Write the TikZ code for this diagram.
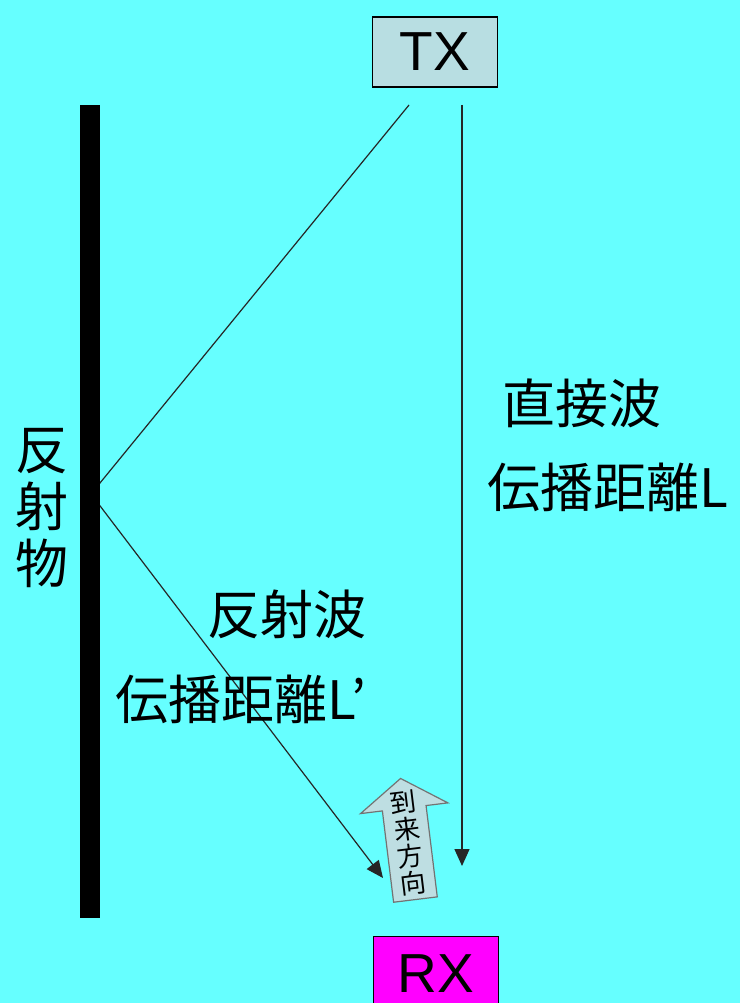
\documentclass[tikz,border=0pt]{standalone}
\usepackage{fontspec}
\newfontfamily\jpfont{Noto Sans CJK JP}
\newfontfamily\txfont{Liberation Sans}
\usetikzlibrary{arrows.meta}
\definecolor{bgcyan}{RGB}{102,255,255}
\definecolor{boxgray}{RGB}{184,222,226}
\definecolor{arrowgray}{RGB}{190,222,226}
\definecolor{rxmag}{RGB}{255,0,255}
\begin{document}
\begin{tikzpicture}[x=1pt,y=-1pt,
  station/.style={draw=black, line width=1.2pt, minimum width=125, minimum height=70, inner sep=0, font=\txfont\fontsize{55}{60}\selectfont},
  lbl/.style={inner sep=0, font=\jpfont\fontsize{53}{60}\selectfont},
  ray/.style={line width=1.2pt, draw=black!85},
  tip/.style={-{Triangle[width=15,length=17]}}
]
\fill[bgcyan] (0,0) rectangle (740,1003);
\useasboundingbox (0,0) rectangle (740,1003);
\clip (0,0) rectangle (740,1003);

\node[station, fill=boxgray] (tx) at (435,52) {TX};
\node[station, fill=rxmag, minimum height=75] (rx) at (436,974) {RX};

\coordinate (txa) at (409,105);
\coordinate (txb) at (462,105);
\coordinate (rxb) at (462,866);
\coordinate (rxa) at (383,878);
\coordinate (refl) at (91,494);

\draw[ray] (txa) -- (refl);
\draw[ray, tip] (refl) -- (rxa);
\draw[ray, line width=1.4pt, tip] (txb) -- (rxb);

\node[fill=black, minimum width=20, minimum height=813, inner sep=0] (bar) at (90,511.5) {};

\node[lbl, align=center] (obj) at (42,508) {反\\[-3pt]射\\[-3pt]物};
\node[lbl] (direct) at (582,403) {直接波};
\node[lbl, anchor=west] (dl) at (487,487) {伝播距離L};
\node[lbl] (refw) at (287,614) {反射波};
\node[lbl, anchor=west] (rl) at (115,699) {伝播距離L’};

\begin{scope}[shift={(408,839)}, rotate=7]
  \draw[draw=black!55, line width=1.2pt, fill=arrowgray]
    (0,-61) -- (44,-31) -- (22,-31) -- (22,61) -- (-22,61) -- (-22,-31) -- (-44,-31) -- cycle;
  \node[inner sep=0, rotate=7, font=\jpfont\fontsize{26}{30}\selectfont, align=center] (arr) at (0,4) {到\\[-3pt]来\\[-3pt]方\\[-3pt]向};
\end{scope}
\end{tikzpicture}
\end{document}
